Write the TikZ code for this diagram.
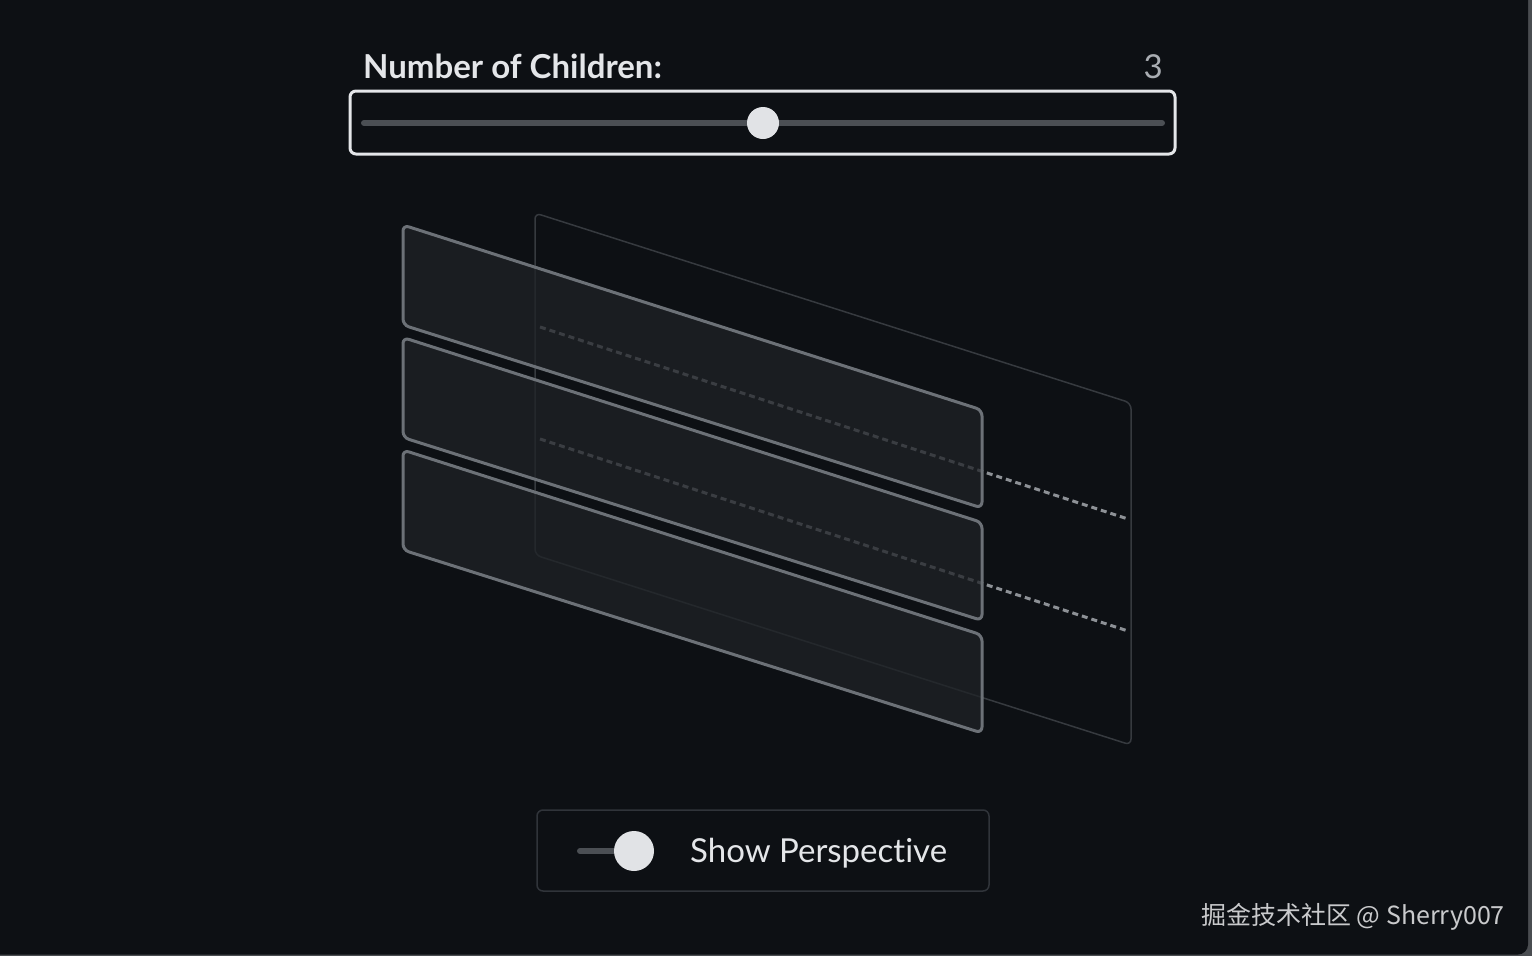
\documentclass[tikz,border=0pt]{standalone}
\usepackage{fontspec}
\setmainfont{Lato}[Ligatures={NoCommon,NoRare}]
\newfontfamily\cjkfont{Noto Sans CJK SC}
\usepackage{xcolor}
\usepackage{tikz}
\usetikzlibrary{positioning}

\definecolor{bgdark}{HTML}{0D1014}
\definecolor{framegray}{HTML}{4A4D51}
\definecolor{lighttext}{HTML}{E4E6E9}
\definecolor{valuegray}{HTML}{A9ADB2}
\definecolor{trackgray}{HTML}{4B4F54}
\definecolor{knobwhite}{HTML}{E1E3E6}
\definecolor{panelline}{HTML}{6C7177}
\definecolor{panelfill}{HTML}{1F2226}
\definecolor{backline}{HTML}{363A3F}
\definecolor{dashgray}{HTML}{8D9196}
\definecolor{boxline}{HTML}{30343A}
\definecolor{markgray}{HTML}{C9CACC}

\begin{document}
\begin{tikzpicture}[x=1pt, y=-1pt,
  panel/.style={draw=panelline, line width=3pt, fill=panelfill, fill opacity=0.75, rounded corners=6pt},
  slot/.style={dashgray, line width=3pt, dash pattern=on 6pt off 4pt},
  track/.style={trackgray, line width=6pt, line cap=round},
  knob/.style={fill=knobwhite, draw=none, circle, inner sep=0pt},
  uitext/.style={text=lighttext, font=\fontsize{33}{40}\selectfont, inner sep=0pt}]
\useasboundingbox (0,0) rectangle (1532,956);
%%%%% Window %%%%%
\fill[framegray] (0,0) rectangle (1532,956);
\fill[bgdark, rounded corners=10pt] (-20,-20) rectangle (1528,954.5);
%%%%% Slider %%%%%
\node[uitext, font=\fontsize{33}{40}\selectfont\bfseries, anchor=base west] (label) at (363,78) {Number of Children:};
\node[uitext, text=valuegray, anchor=base east] (value) at (1163,78) {3};
\draw[lighttext, line width=3pt, rounded corners=6pt] (350,91) rectangle (1175,154);
\draw[track] (364,123)--(1162,123);
\node[knob, minimum size=32pt] (thumb) at (763,123) {};
%%%%% Parent panel %%%%%
\draw[backline, line width=1.5pt, rounded corners=6pt] (535,213)--(1131,403)--(1131,745)--(535,555)--cycle;
\foreach \k in {0,1}{
\draw[slot] (540,{327+112*\k})--(1128,{519+112*\k});
}
%%%%% Children %%%%%
\foreach \k in {0,1,2}{
\draw[panel] (403,{225+112.5*\k})--(982,{410+112.5*\k})--(982,{508+112.5*\k})--(403,{325+112.5*\k})--cycle;
}
%%%%% Toggle %%%%%
\draw[boxline, line width=1.5pt, rounded corners=6pt] (537,810) rectangle (989,891);
\draw[track] (580,851)--(634,851);
\node[knob, minimum size=40pt] (switch) at (634,851) {};
\node[uitext, anchor=base west] (toggle) at (690,862) {Show Perspective};
%%%%% Watermark %%%%%
\node[text=markgray, font=\cjkfont\fontsize{25}{30}\selectfont, anchor=base east, inner sep=0pt] (mark) at (1505,924) {掘金技术社区 @ Sherry007};
\end{tikzpicture}
\end{document}
